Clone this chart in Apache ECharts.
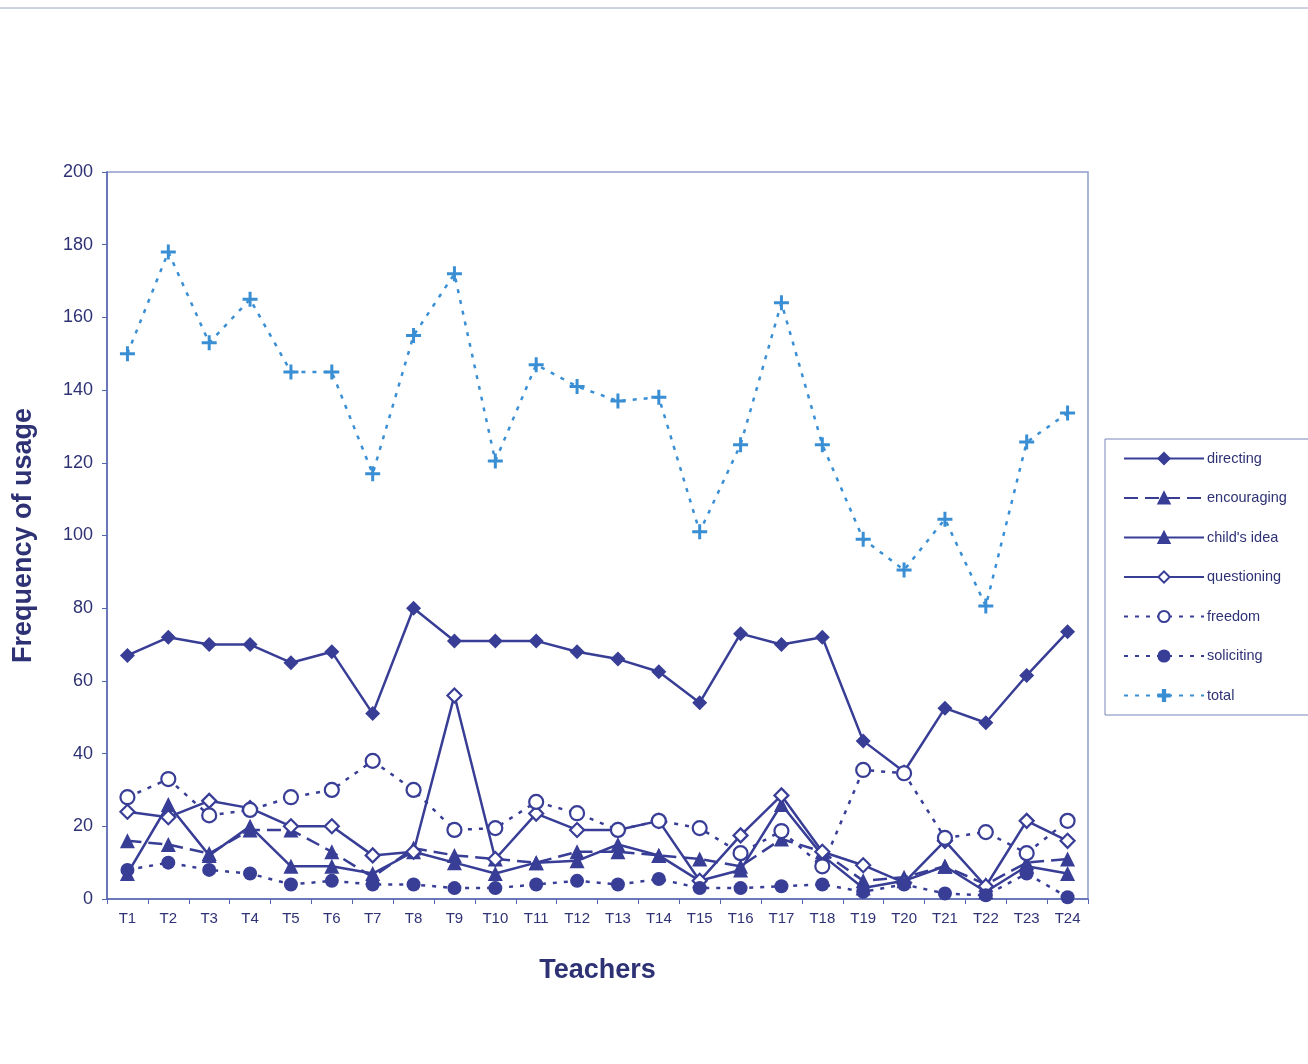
<!DOCTYPE html>
<html>
<head>
<meta charset="utf-8">
<script src="https://cdn.jsdelivr.net/npm/echarts@6/dist/echarts.min.js"></script>
<style>
  html, body { margin: 0; padding: 0; background: #fff; }
  #chart { width: 1308px; height: 1064px; }
</style>
</head>
<body>
<div id="chart"></div>
<script>
let teachers = ['T1', 'T2', 'T3', 'T4', 'T5', 'T6', 'T7', 'T8', 'T9', 'T10', 'T11', 'T12',
  'T13', 'T14', 'T15', 'T16', 'T17', 'T18', 'T19', 'T20', 'T21', 'T22', 'T23', 'T24'];

let directing = [67, 72, 70, 70, 65, 68, 51, 80, 71, 71, 71, 68, 66, 62.5, 54, 73, 70, 72, 43.5, 35, 52.5, 48.5, 61.5, 73.5];
let encouraging = [16, 15, 12.5, 19, 19, 13, 6, 14, 12, 11, 10, 13, 13, 12, 11, 9, 16.5, 13, 5, 6, 9, 4, 10, 11];
let childsIdea = [7, 26, 12, 20, 9, 9, 7, 13, 10, 7, 10, 10.5, 15, 12, 5, 8, 26, 12, 3, 5, 9, 2, 9, 7];
let questioning = [24, 22.5, 27, 25, 20, 20, 12, 13, 56, 11, 23.5, 19, 19, 21.5, 5, 17.5, 28.5, 13, 9.3, 4.5, 16, 3.5, 21.5, 16];
let freedom = [28, 33, 23, 24.5, 28, 30, 38, 30, 19, 19.5, 26.7, 23.6, 19, 21.5, 19.5, 12.6, 18.7, 9, 35.5, 34.6, 16.8, 18.4, 12.6, 21.5];
let soliciting = [8, 10, 8, 7, 4, 5, 4, 4, 3, 3, 4, 5, 4, 5.5, 3, 3, 3.5, 4, 2, 4, 1.5, 1, 7, 0.5];
let total = [150, 178, 153, 165, 145, 145, 117, 155, 172, 120.5, 147, 141, 137, 138, 101, 125, 164, 125, 99, 90.5, 104.5, 80.6, 125.7, 133.7];

let chart = echarts.init(document.getElementById('chart'));

let navy = '#383d96';
let textNavy = '#2e3275';
let lightBlue = '#3a8fd4';
let plusPath = 'path://M4,0H6V4H10V6H6V10H4V6H0V4H4Z';

function makeSeries(name, data, symbol, symbolSize, lineType, filled, color) {
  return {
    name: name,
    type: 'line',
    data: data,
    symbol: symbol,
    symbolSize: symbolSize,
    showAllSymbol: true,
    lineStyle: { color: color, width: 2.5, type: lineType },
    itemStyle: {
      color: filled ? color : '#fff',
      borderColor: color,
      borderWidth: filled ? 0 : 2.2
    },
    emphasis: { disabled: true },
    z: 3
  };
}

let options = {
  animation: false,
  backgroundColor: '#fff',
  textStyle: { fontFamily: 'Liberation Sans, Arial, sans-serif' },
  graphic: [
    {
      type: 'line',
      shape: { x1: 0, y1: 8, x2: 1308, y2: 8 },
      style: { stroke: '#9aa3c0', lineWidth: 1 }
    }
  ],
  legend: {
    orient: 'vertical',
    left: 1105,
    top: 439,
    padding: [12, 30, 12, 18],
    itemWidth: 80,
    itemHeight: 14,
    itemGap: 24.5,
    itemStyle: { borderWidth: 2 },
    borderColor: '#7a86b8',
    borderWidth: 1,
    textStyle: { color: textNavy, fontSize: 14.5, padding: [0, 0, 0, -2] },
    data: ['directing', 'encouraging', "child's idea", 'questioning', 'freedom', 'soliciting', 'total']
  },
  grid: {
    left: 107,
    right: 220,
    top: 172,
    bottom: 165,
    show: true,
    borderColor: '#8d9ccc',
    borderWidth: 1.5
  },
  xAxis: {
    type: 'category',
    data: teachers,
    boundaryGap: true,
    name: 'Teachers',
    nameLocation: 'middle',
    nameGap: 58,
    nameTextStyle: { color: textNavy, fontSize: 27, fontWeight: 'bold' },
    axisLine: { lineStyle: { color: '#5565b0', width: 1.5 } },
    axisTick: { show: true, length: 5, lineStyle: { color: '#5565b0' } },
    axisLabel: { color: textNavy, fontSize: 15, margin: 12, interval: 0 },
    splitLine: { show: false }
  },
  yAxis: {
    type: 'value',
    min: 0,
    max: 200,
    interval: 20,
    name: 'Frequency of usage',
    nameLocation: 'middle',
    nameGap: 70,
    nameTextStyle: { color: textNavy, fontSize: 27, fontWeight: 'bold' },
    axisLine: { show: true, lineStyle: { color: '#5565b0', width: 1.5 } },
    axisTick: { show: true, length: 5, lineStyle: { color: '#5565b0' } },
    axisLabel: { color: textNavy, fontSize: 18, margin: 14 },
    splitLine: { show: false }
  },
  series: [
    makeSeries('directing', directing, 'diamond', 15, 'solid', true, navy),
    makeSeries('encouraging', encouraging, 'triangle', 15, [14, 7], true, navy),
    makeSeries("child's idea", childsIdea, 'triangle', 15, 'solid', true, navy),
    makeSeries('questioning', questioning, 'diamond', 14, 'solid', false, navy),
    makeSeries('freedom', freedom, 'circle', 14, [4, 7], false, navy),
    makeSeries('soliciting', soliciting, 'circle', 14, [4, 7], true, navy),
    makeSeries('total', total, plusPath, 15, [4, 7], true, lightBlue)
  ]
};

chart.setOption(options);
</script>
</body>
</html>
